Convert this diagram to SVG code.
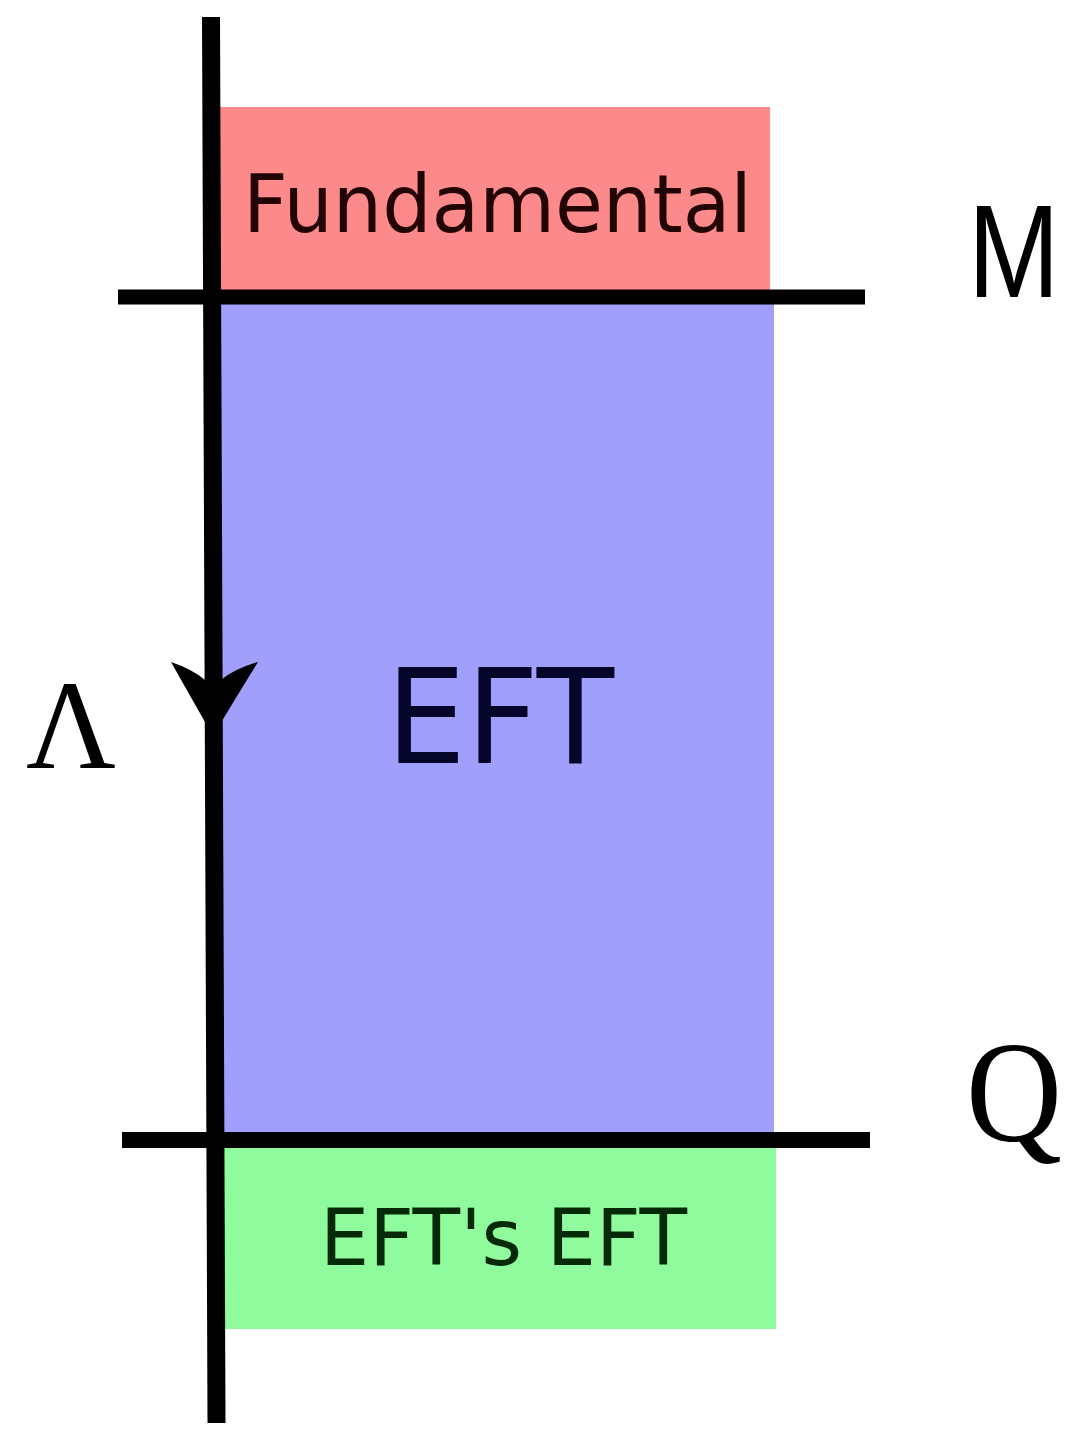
<svg xmlns="http://www.w3.org/2000/svg" width="1076" height="1440" viewBox="0 0 1076 1440">
<style>
.ax{stroke:#000;fill:none;stroke-linecap:butt}
.sans{font-family:"DejaVu Sans","Liberation Sans",sans-serif}
.serif{font-family:"Liberation Serif","DejaVu Serif",serif}
</style>
<rect width="1076" height="1440" fill="#fff"/>
<g id="fundamental">
<rect x="220" y="107" width="550" height="190" fill="#fd8a8a"/>
<text x="243" y="232" class="sans" font-size="80" fill="#220404" textLength="509" lengthAdjust="spacingAndGlyphs">Fundamental</text>
</g>
<g id="eft">
<rect x="220" y="297" width="554" height="844" fill="#a09ffc"/>
<text x="386" y="763" class="sans" font-size="132" fill="#05052a" textLength="228" lengthAdjust="spacingAndGlyphs">EFT</text>
</g>
<g id="efts-eft">
<rect x="220" y="1141" width="556" height="188" fill="#90fb9c"/>
<text x="320" y="1265" class="sans" font-size="78" fill="#062a08" textLength="367" lengthAdjust="spacingAndGlyphs">EFT's EFT</text>
</g>
<g id="connectors">
<line class="ax" x1="211" y1="17" x2="216.5" y2="1423" stroke-width="18"/>
<line class="ax" x1="118" y1="297" x2="865" y2="297" stroke-width="15"/>
<line class="ax" x1="122" y1="1140" x2="870" y2="1140" stroke-width="16"/>
<path d="M171,662 Q192,669 205,680 L221,680 Q234,669 258,662 Q238,694 213,736 Q189,694 171,662 Z" fill="#000"/>
</g>
<g id="labels">
<text x="26" y="768" class="serif" font-size="128" fill="#000" textLength="90" lengthAdjust="spacingAndGlyphs">Λ</text>
<text transform="translate(968,297) scale(1,1.2)" class="sans" font-size="110" fill="#000" style="font-family:'Liberation Sans',Arial,sans-serif">M</text>
<text x="966" y="1141" class="serif" font-size="145" fill="#000" textLength="96" lengthAdjust="spacingAndGlyphs">Q</text>
</g>
</svg>
